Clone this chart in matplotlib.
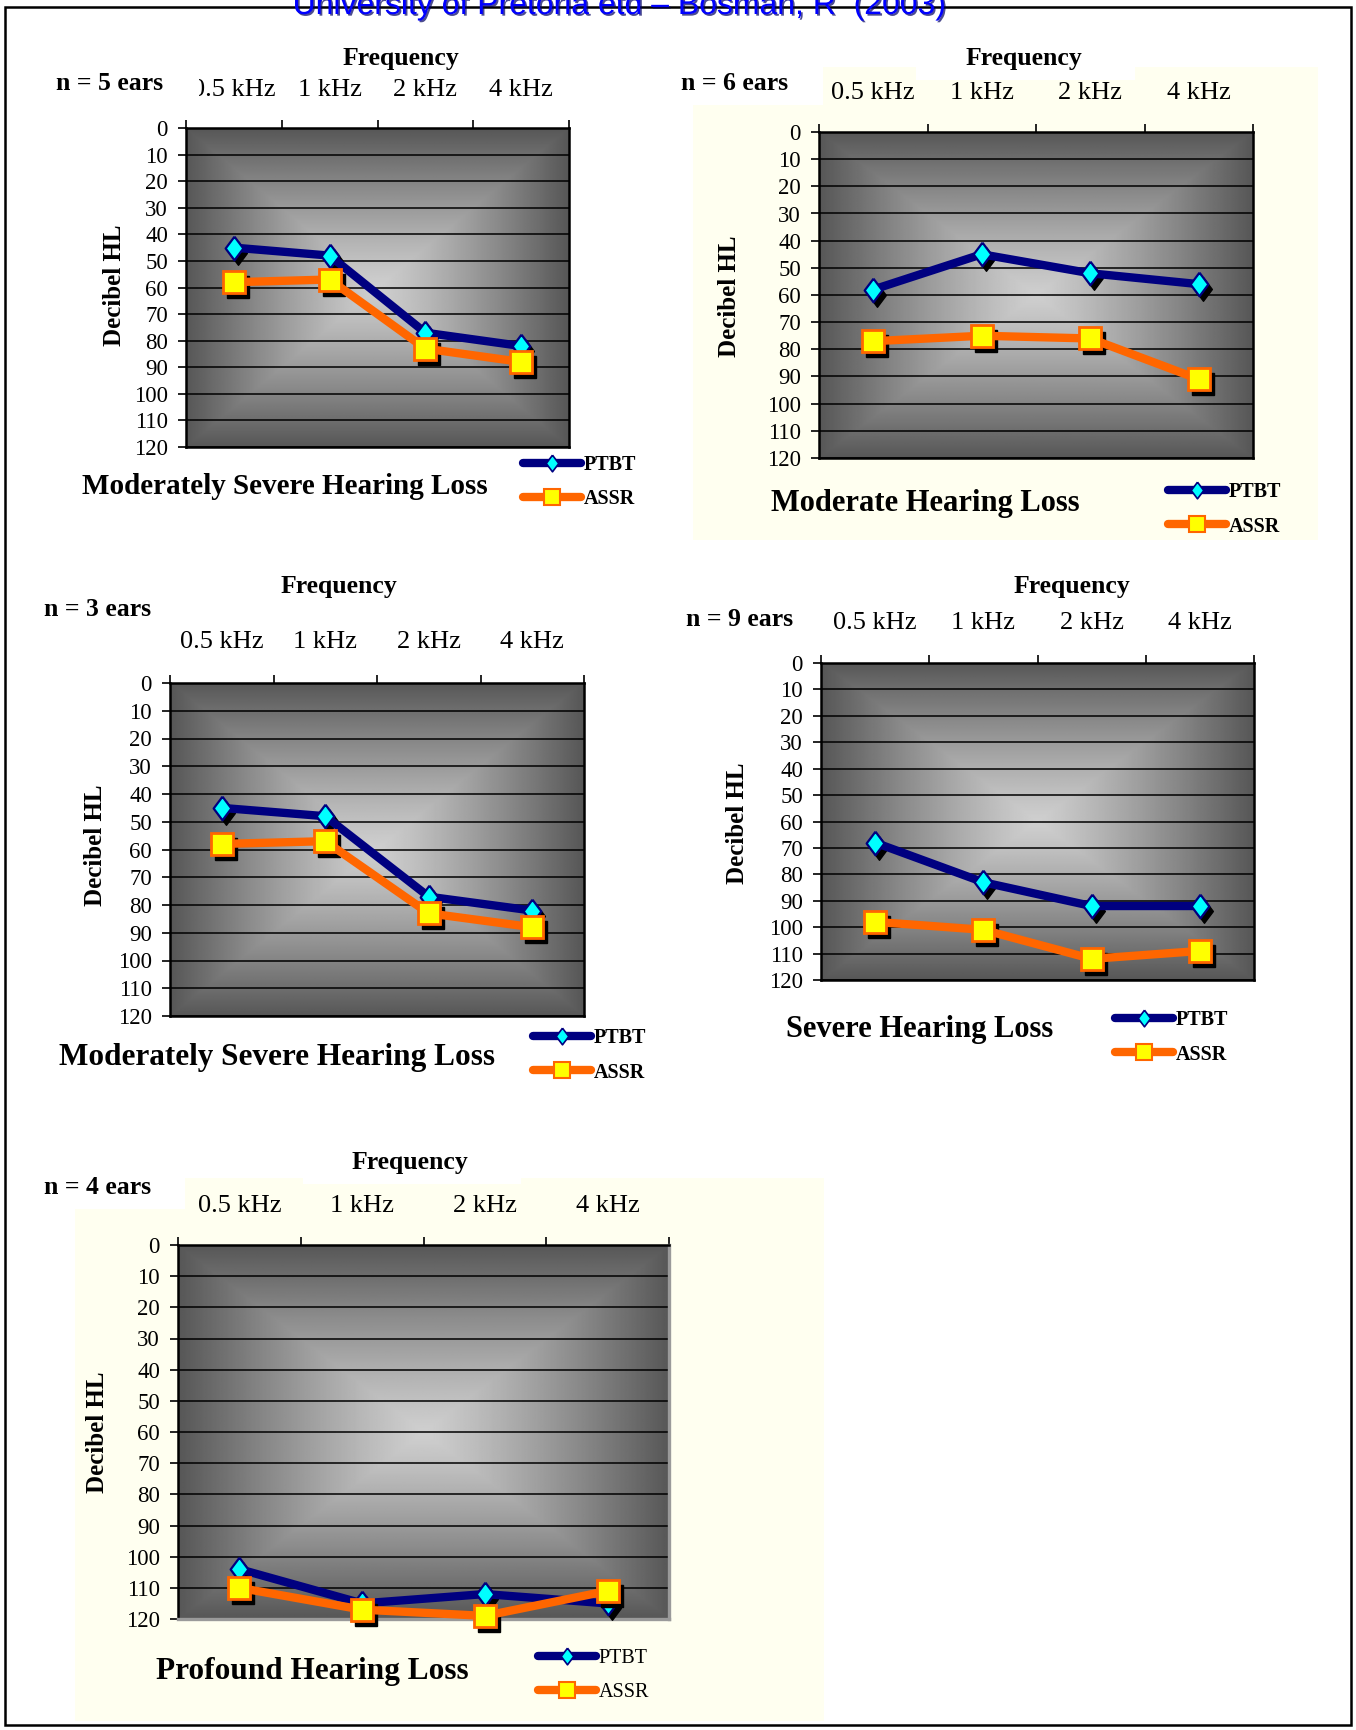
import numpy as np
import matplotlib
matplotlib.use("Agg")
import matplotlib.pyplot as plt
from matplotlib.lines import Line2D
from matplotlib.patches import Rectangle
from matplotlib.transforms import offset_copy, blended_transform_factory
import matplotlib.patheffects as pe

plt.rcParams['font.family'] = ['Liberation Serif', 'DejaVu Serif']

W, H = 1356, 1730

freqs = ["0.5 kHz", "1 kHz", "2 kHz", "4 kHz"]
db_ticks = list(range(0, 121, 10))

# mean thresholds (dB HL) per hearing-loss group
ptbt_modsev_a = [45, 48, 77, 82]
assr_modsev_a = [58, 57, 83, 88]
ptbt_moderate = [58, 45, 52, 56]
assr_moderate = [77, 75, 76, 91]
ptbt_modsev_b = [45, 48, 77, 82]
assr_modsev_b = [58, 57, 83, 88]
ptbt_severe = [68, 83, 92, 92]
assr_severe = [98, 101, 112, 109]
ptbt_profound = [104, 115, 112, 115]
assr_profound = [110, 117, 119, 111]

titles = ["Moderately Severe Hearing Loss", "Moderate Hearing Loss",
          "Moderately Severe Hearing Loss", "Severe Hearing Loss",
          "Profound Hearing Loss"]
ears = [5, 6, 3, 9, 4]
ptbt_sets = [ptbt_modsev_a, ptbt_moderate, ptbt_modsev_b, ptbt_severe, ptbt_profound]
assr_sets = [assr_modsev_a, assr_moderate, assr_modsev_b, assr_severe, assr_profound]

NAVY = '#000080'
CYAN = '#00FFFF'
ORANGE = '#FF6600'
YELLOW = '#FFFF00'
IVORY = '#FFFFF0'

# pixel layout of each panel: plot box, text anchors, legend anchor
layout = [
    dict(box=(186, 569, 128, 447), freq=(401, 58), n=(56, 83), fy=90, yl=(114, 285),
         title=(285, 487, 21), leg=(523, 462), bold_leg=True, grey_frame=False),
    dict(box=(819, 1253, 132, 458), freq=(1024, 58), n=(681, 83), fy=93, yl=(730, 296),
         title=(925, 503, 22), leg=(1168, 489), bold_leg=True, grey_frame=False),
    dict(box=(170, 584, 683, 1016), freq=(339, 587), n=(44, 610), fy=642, yl=(95, 845),
         title=(277, 1057, 22.5), leg=(533, 1035), bold_leg=True, grey_frame=False),
    dict(box=(821, 1254, 663, 980), freq=(1072, 587), n=(686, 620), fy=623, yl=(738, 823),
         title=(920, 1030, 22), leg=(1115, 1017), bold_leg=True, grey_frame=False),
    dict(box=(178, 669, 1245, 1619), freq=(410, 1163), n=(44, 1187), fy=1206, yl=(97, 1432),
         title=(312, 1671, 22.5), leg=(538, 1656), bold_leg=False, grey_frame=True),
]

fig = plt.figure(figsize=(W / 100, H / 100), dpi=100)


def fx(x):
    return x / W


def fy(y):
    return 1 - y / H


def rect_px(x0, y0, x1, y1, color, z):
    fig.add_artist(Rectangle((fx(x0), fy(y1)), fx(x1) - fx(x0), fy(y0) - fy(y1),
                             transform=fig.transFigure, facecolor=color,
                             edgecolor='none', zorder=z))


# ivory chart areas with white text boxes cut into them
rect_px(693, 67, 1318, 540, IVORY, -2)
rect_px(680, 67, 823, 105, 'white', -1)
rect_px(916, 60, 1135, 80, 'white', -1)
rect_px(75, 1178, 824, 1721, IVORY, -2)
rect_px(40, 1170, 185, 1209, 'white', -1)
rect_px(303, 1170, 521, 1184, 'white', -1)

# "from centre" grey fill of the plot area
u = np.linspace(-1, 1, 400)
gx, gy = np.meshgrid(u, u)
shade = 0.81 - 0.47 * np.maximum(np.abs(gx), np.abs(gy)) ** 1.2

diamond = [(0, 1), (0.75, 0), (0, -1), (-0.75, 0), (0, 1)]
x = np.arange(len(freqs))

for i, lay in enumerate(layout):
    l, r, t, b = lay['box']
    ax = fig.add_axes([fx(l), fy(b), fx(r) - fx(l), fy(t) - fy(b)])
    ax.imshow(shade, cmap='gray', vmin=0, vmax=1, extent=(0, 1, 0, 1),
              transform=ax.transAxes, aspect='auto', zorder=0,
              interpolation='bilinear')
    ax.set_xlim(-0.5, len(freqs) - 0.5)
    ax.set_ylim(120, 0)

    ax.set_yticks(db_ticks)
    ax.set_yticklabels([str(v) for v in db_ticks], fontsize=16.5)
    ax.tick_params(axis='y', direction='out', length=6, width=1.2, pad=7)
    ax.yaxis.grid(True, color='black', lw=1.1)
    ax.xaxis.tick_top()
    ax.set_xticks(np.arange(-0.5, len(freqs), 1.0))
    ax.set_xticklabels([])
    ax.tick_params(axis='x', direction='out', length=6, width=1.2)

    for s in ax.spines.values():
        s.set_linewidth(1.8)
        s.set_color('black')
    if lay['grey_frame']:
        ax.spines['right'].set_color('#9a9a9a')
        ax.spines['bottom'].set_color('#9a9a9a')
        ax.spines['right'].set_linewidth(2.4)
        ax.spines['bottom'].set_linewidth(2.4)

    # frequency labels above the plot
    tr = blended_transform_factory(ax.transData, fig.transFigure)
    for xi, lab in zip(x, freqs):
        ax.text(xi, fy(lay['fy']), lab, transform=tr, ha='center', va='center',
                fontsize=19, clip_on=False)

    shadow = offset_copy(ax.transData, fig=fig, x=4, y=-5, units='dots')
    ax.plot(x, ptbt_sets[i], ls='none', marker=diamond, ms=17, color='black',
            transform=shadow, clip_on=False, zorder=3)
    ax.plot(x, ptbt_sets[i], color=NAVY, lw=6, marker=diamond, ms=17, mfc=CYAN,
            mec=NAVY, mew=1.6, clip_on=False, zorder=4)
    ax.plot(x, assr_sets[i], ls='none', marker='s', ms=16.5, color='black',
            transform=shadow, clip_on=False, zorder=5)
    ax.plot(x, assr_sets[i], color=ORANGE, lw=6, marker='s', ms=16.5, mfc=YELLOW,
            mec=ORANGE, mew=2, clip_on=False, zorder=6)

    handles = [
        Line2D([], [], color=NAVY, lw=6, solid_capstyle='round', marker=diamond,
               ms=12, mfc=CYAN, mec=NAVY, mew=1.2),
        Line2D([], [], color=ORANGE, lw=6, solid_capstyle='round', marker='s',
               ms=11, mfc=YELLOW, mec=ORANGE, mew=1.5),
    ]
    lx, ly = lay['leg']
    ax.legend(handles, ['PTBT', 'ASSR'], loc='upper left',
              bbox_to_anchor=(fx(lx), fy(ly - 7)), bbox_transform=fig.transFigure,
              frameon=False, borderpad=0, borderaxespad=0, handlelength=2.9,
              handletextpad=0.1, labelspacing=0.72, numpoints=1,
              prop=dict(family='Liberation Serif', size=14.5,
                        weight='bold' if lay['bold_leg'] else 'normal'))

    fig.text(fx(lay['freq'][0]), fy(lay['freq'][1]), "Frequency", ha='center',
             va='center', fontsize=18.5, fontweight='bold')
    fig.text(fx(lay['yl'][0]), fy(lay['yl'][1]), "Decibel HL", ha='center',
             va='center', rotation=90, fontsize=18, fontweight='bold')
    tx, ty, ts = lay['title']
    fig.text(fx(tx), fy(ty), titles[i], ha='center', va='center', fontsize=ts,
             fontweight='bold')
    fig.text(fx(lay['n'][0]), fy(lay['n'][1]), f"n = {ears[i]} ears", ha='left',
             va='center', fontsize=18.5, fontweight='bold', zorder=4)

# the "n = 5 ears" text box overlaps the first frequency label
rect_px(40, 66, 199, 104, 'white', 2)

# page frame and running header
fig.add_artist(Rectangle((fx(5), fy(1725)), fx(1351) - fx(5), fy(7) - fy(1725),
                         transform=fig.transFigure, fill=False, edgecolor='black',
                         lw=1.8, zorder=5))
fig.text(fx(620), fy(14), "University of Pretoria etd \u2013 Bosman, R  (2003)",
         ha='center', va='baseline', fontsize=23, color='#0000FF',
         family=['Liberation Sans', 'DejaVu Sans'], zorder=6,
         path_effects=[pe.withSimplePatchShadow(offset=(1.2, -1.2),
                                                shadow_rgbFace='#000060', alpha=0.7)])

fig.savefig("out.png", dpi=100)
